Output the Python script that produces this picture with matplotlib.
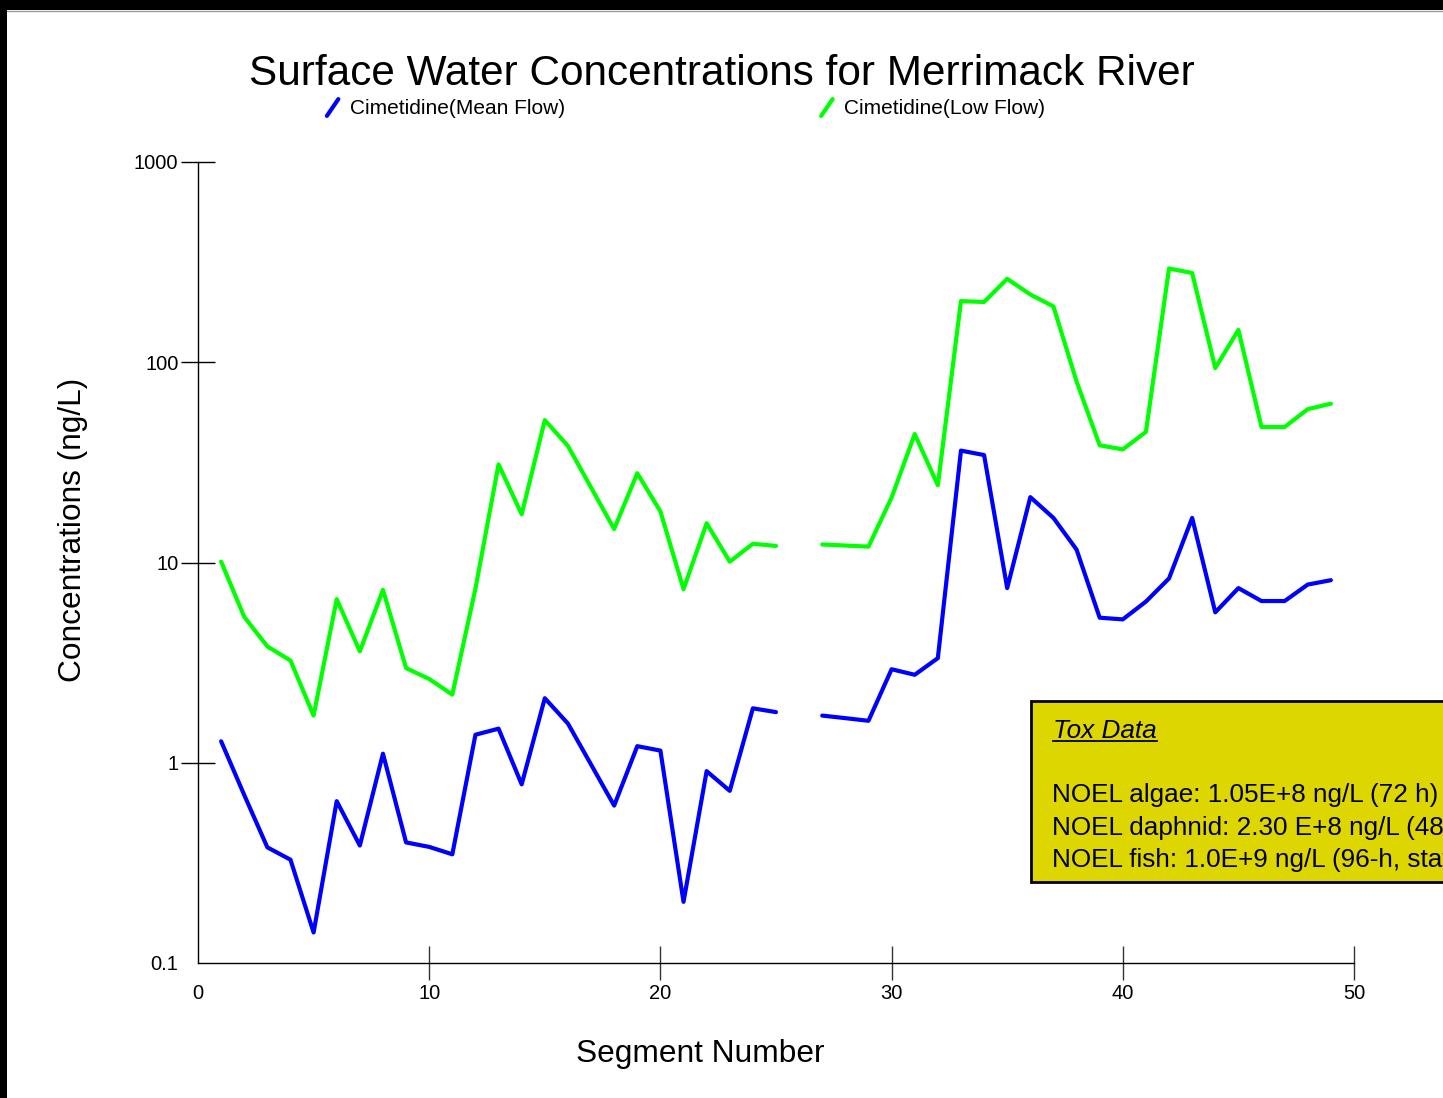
import numpy as np
import matplotlib
matplotlib.use("Agg")
import matplotlib.pyplot as plt
from matplotlib.lines import Line2D
from matplotlib.patches import Rectangle
from matplotlib.legend_handler import HandlerLine2D

plt.rcParams['font.family'] = ['Liberation Sans', 'DejaVu Sans']

segments = list(range(1, 50))
mean_flow = [1.28, 0.69, 0.378, 0.328, 0.142, 0.643, 0.386, 1.11, 0.40, 0.38,
             0.349, 1.38, 1.48, 0.78, 2.10, 1.57, 0.98, 0.611, 1.21, 1.15,
             0.202, 0.908, 0.724, 1.87, 1.79, np.nan, 1.72, 1.67, 1.62, 2.93,
             2.75, 3.33, 36.2, 34.4, 7.45, 21.2, 16.7, 11.6, 5.30, 5.20,
             6.38, 8.33, 16.7, 5.64, 7.45, 6.42, 6.42, 7.76, 8.16]
low_flow = [10.1, 5.35, 3.81, 3.24, 1.72, 6.56, 3.60, 7.30, 2.97, 2.62,
            2.19, 7.4, 30.9, 17.4, 51.4, 38.2, 23.7, 14.7, 27.9, 18.0,
            7.36, 15.7, 10.1, 12.4, 12.1, np.nan, 12.3, 12.15, 12.0, 21.1,
            43.8, 24.3, 202, 200, 261, 218, 190, 80.2, 38.5, 36.7,
            44.9, 294, 279, 93.5, 145, 47.5, 47.5, 58.3, 62.1]
series_names = ["Cimetidine(Mean Flow)", "Cimetidine(Low Flow)"]
x_ticks = [0, 10, 20, 30, 40, 50]
y_ticks = [0.1, 1, 10, 100, 1000]
y_tick_labels = ["0.1", "1", "10", "100", "1000"]
tox_title = "Tox Data"
tox_lines = ["NOEL algae: 1.05E+8 ng/L (72 h)",
             "NOEL daphnid: 2.30 E+8 ng/L (48 h)",
             "NOEL fish: 1.0E+9 ng/L (96-h, static)"]

W, H = 1443, 1098
fig = plt.figure(figsize=(W / 100, H / 100), dpi=100)
fig.patch.set_facecolor('white')

def fx(px):
    return px / W

def fy(py):
    return 1 - py / H

ax = fig.add_axes([fx(198), fy(963), fx(1354) - fx(198), fy(162) - fy(963)])
ax.set_facecolor('none')

ax.plot(segments, mean_flow, color='#0000FF', lw=3.0, solid_capstyle='round',
        solid_joinstyle='round', label=series_names[0], clip_on=False)
ax.plot(segments, low_flow, color='#00FF00', lw=3.0, solid_capstyle='round',
        solid_joinstyle='round', label=series_names[1], clip_on=False)

ax.set_yscale('log')
ax.set_xlim(0, 50)
ax.set_ylim(0.1, 1000)
ax.set_xticks(x_ticks)
ax.set_xticklabels([str(t) for t in x_ticks])
ax.set_yticks(y_ticks)
ax.set_yticklabels(y_tick_labels)
ax.yaxis.set_minor_locator(matplotlib.ticker.NullLocator())
ax.xaxis.set_minor_locator(matplotlib.ticker.NullLocator())

for s in ['top', 'right']:
    ax.spines[s].set_visible(False)
for s in ['left', 'bottom']:
    ax.spines[s].set_linewidth(1.0)
    ax.spines[s].set_color('black')

ax.tick_params(axis='y', direction='inout', length=25, width=1.0, color='black',
               labelsize=14.5, pad=1.6)
ax.tick_params(axis='x', direction='inout', length=25, width=1.0, color='#333333',
               labelsize=14.5, pad=2.3)

fig.canvas.draw()
ax.xaxis.get_major_ticks()[0].tick1line.set_visible(False)
ax.yaxis.get_major_ticks()[0].tick1line.set_visible(False)

# Title and axis labels
fig.text(0.5, fy(85), "Surface Water Concentrations for Merrimack River",
         ha='center', va='baseline', fontsize=30.4)
fig.text(fx(73), fy(530), "Concentrations (ng/L)", rotation=90,
         ha='center', va='center', fontsize=22.8)
fig.text(fx(700), fy(1054), "Segment Number", ha='center', va='center',
         fontsize=22.8)

# Legend with slanted handles
class SlashHandler(HandlerLine2D):
    def create_artists(self, legend, orig_handle, xdescent, ydescent,
                       width, height, fontsize, trans):
        line = Line2D([-xdescent, -xdescent + width],
                      [-ydescent - 0.1 * height, -ydescent + 1.0 * height])
        self.update_prop(line, orig_handle, legend)
        line.set_solid_capstyle('round')
        line.set_transform(trans)
        return [line]

handles, labels = ax.get_legend_handles_labels()
leg = fig.legend(handles, labels, loc='center',
                 bbox_to_anchor=(fx(686), fy(108.5)),
                 ncol=2, frameon=False, fontsize=15, borderpad=0,
                 handlelength=0.55, handleheight=0.75, handletextpad=0.55,
                 columnspacing=12.3,
                 handler_map={Line2D: SlashHandler()})

# Tox data box
fig.patches.append(Rectangle((fx(1031), fy(882)), fx(600), fy(701) - fy(882),
                             transform=fig.transFigure, facecolor='#DDD600',
                             edgecolor='black', linewidth=2.0, zorder=5))
tt = fig.text(fx(1053), fy(738), tox_title, ha='left', va='baseline',
              fontsize=18.8, style='italic', zorder=6)
for i, line in enumerate(tox_lines):
    fig.text(fx(1052), fy(802 + 32.5 * i), line, ha='left', va='baseline',
             fontsize=18.8, zorder=6)

# Frame bands (black border top and left)
fig.patches.append(Rectangle((0, fy(10)), 1, fy(0) - fy(10),
                             transform=fig.transFigure, facecolor='black',
                             edgecolor='none', zorder=10))
fig.patches.append(Rectangle((0, 0), fx(7), 1,
                             transform=fig.transFigure, facecolor='black',
                             edgecolor='none', zorder=10))
fig.lines.append(Line2D([fx(7), 1], [fy(10.5), fy(10.5)], transform=fig.transFigure,
                        color='#999999', lw=1.0, zorder=9))

# Underline for Tox Data
fig.canvas.draw()
bb = tt.get_window_extent()
fig.lines.append(Line2D([bb.x0 / W, bb.x1 / W], [fy(741), fy(741)],
                        transform=fig.transFigure, color='black', lw=1.3,
                        zorder=7))

fig.savefig("out.png", dpi=100)
